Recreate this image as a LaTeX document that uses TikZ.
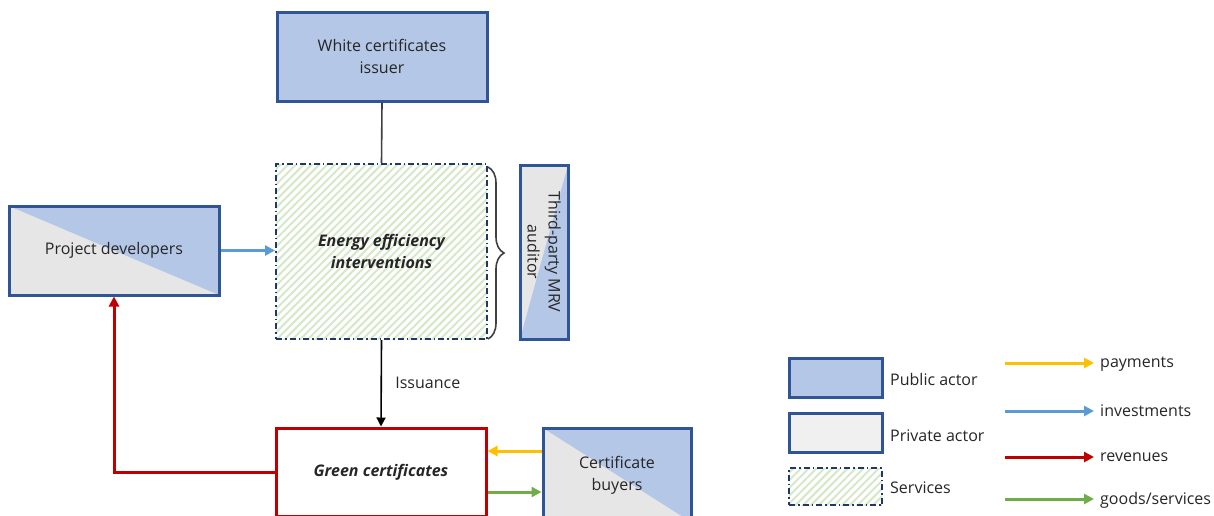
\documentclass[tikz,border=0pt]{standalone}
\usepackage{fontspec}
\setmainfont{Open Sans}
\usetikzlibrary{arrows.meta,patterns.meta,decorations.pathreplacing}
\definecolor{pubblue}{HTML}{B4C7E7}
\definecolor{privgray}{HTML}{E7E6E6}
\definecolor{legendgray}{HTML}{F0F0F0}
\definecolor{edgeblue}{HTML}{2F5597}
\definecolor{dashblue}{HTML}{203864}
\definecolor{revred}{HTML}{C00000}
\definecolor{payyellow}{HTML}{FFC000}
\definecolor{invblue}{HTML}{5B9BD5}
\definecolor{goodsgreen}{HTML}{70AD47}
\definecolor{hatchgreen}{HTML}{D5E8C8}
\definecolor{txt}{HTML}{262626}
\begin{document}
\begin{tikzpicture}[x=1pt,y=-1pt,
  every node/.style={font=\fontsize{16}{22}\selectfont, text=txt},
  pubbox/.style={draw=edgeblue, line width=3pt, fill=pubblue, align=center},
  splitbox/.style={draw=edgeblue, line width=3pt, fill=privgray, align=center,
    path picture={\fill[pubblue] (path picture bounding box.north west) -- (path picture bounding box.north east) -- (path picture bounding box.south east) -- cycle;}},
  splitboxrev/.style={draw=edgeblue, line width=3pt, fill=privgray, align=center,
    path picture={\fill[pubblue] (path picture bounding box.north east) -- (path picture bounding box.south east) -- (path picture bounding box.south west) -- cycle;}},
  servbox/.style={draw=dashblue, line width=1.3pt, dash pattern=on 6pt off 3pt on 1.5pt off 3pt,
    preaction={fill=white}, pattern={Lines[angle=45,distance=5.5pt,line width=2pt]}, pattern color=hatchgreen, align=center},
  privbox/.style={draw=edgeblue, line width=3pt, fill=legendgray},
  arr/.style={line width=3pt, -{Triangle[length=10pt,width=10pt]}},
  conn/.style={line width=1.6pt, draw=black!75},
  lbl/.style={anchor=west, inner sep=0pt}
]
\useasboundingbox (0,0) rectangle (1214,515);
\clip (0,0) rectangle (1214,515);

% main nodes
\node[pubbox, minimum width=210pt, minimum height=89pt] (wci) at (382,56.5) {White certificates\\issuer};
\node[servbox, minimum width=211pt, minimum height=175pt] (eei) at (381.5,251.5) {\bfseries\itshape Energy efficiency\\\bfseries\itshape interventions};
\node[splitboxrev, minimum width=48pt, minimum height=174pt] (mrv) at (544,252) {};
\node[rotate=-90, align=center, font=\fontsize{16}{21}\selectfont] at (mrv.center) {Third-party MRV\\auditor};
\node[splitbox, minimum width=210pt, minimum height=89pt] (pd) at (114,250.5) {Project developers};
\node[draw=revred, line width=3pt, fill=white, minimum width=210pt, minimum height=88pt, font=\fontsize{16}{22}\selectfont\bfseries\itshape] (gc) at (381,472) {Green certificates};
\node[splitbox, minimum width=148pt, minimum height=94pt] (cb) at (617,475) {Certificate\\buyers};

% connectors
\draw[conn] (wci.south) -- (eei.north);
\draw[line width=1.6pt, draw=black!75, decorate, decoration={brace, amplitude=16pt}] (488,167) -- (488,339);
\draw[arr, invblue] (pd.east) -- (pd.east -| eei.west);
\draw[line width=1.6pt, -{Triangle[length=9pt,width=9pt]}] (eei.south) -- node[right=10pt, pos=0.5] {Issuance} (gc.north);
\draw[arr, revred] (gc.west) -| (pd.south);
\draw[arr, payyellow] ([yshift=24pt]cb.west) -- ([yshift=21pt]gc.east);
\draw[arr, goodsgreen] ([yshift=-20pt]gc.east) -- ([yshift=-17pt]cb.west);

% legend boxes
\node[pubbox, minimum width=93pt, minimum height=39pt] (lpub) at (835.5,377.5) {};
\node[lbl] at (890,379) {Public actor};
\node[privbox, minimum width=93pt, minimum height=39pt] (lpriv) at (835.5,432.5) {};
\node[lbl] at (890,436) {Private actor};
\node[servbox, minimum width=93pt, minimum height=37pt] (lserv) at (835.5,486.5) {};
\node[lbl] at (890,488) {Services};

% legend arrows
\coordinate (p1) at (1005,363); \coordinate (p2) at (1094,363);
\coordinate (i1) at (1005,411); \coordinate (i2) at (1094,411);
\coordinate (r1) at (1005,457); \coordinate (r2) at (1094,457);
\coordinate (g1) at (1005,499); \coordinate (g2) at (1094,499);
\draw[arr, payyellow] (p1) -- (p2);
\draw[arr, invblue] (i1) -- (i2);
\draw[arr, revred] (r1) -- (r2);
\draw[arr, goodsgreen] (g1) -- (g2);
\node[lbl] at (1100,364) {payments};
\node[lbl] at (1100,411) {investments};
\node[lbl] at (1100,457) {revenues};
\node[lbl] at (1100,500) {goods/services};
\end{tikzpicture}
\end{document}
